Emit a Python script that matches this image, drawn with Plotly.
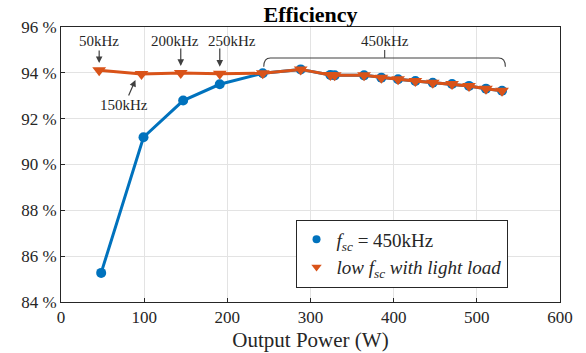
import plotly.graph_objects as go

# Output power (W) and efficiency (%) for the two operating modes
power_fixed = [48.3, 99.2, 146.9, 190.9, 242.6, 288.2, 323.9, 329.1, 364.4, 385.2,
               405.3, 426.1, 447.0, 470.2, 490.6, 511.0, 530.3]
eff_fixed = [85.27, 91.19, 92.79, 93.50, 93.98, 94.15, 93.91, 93.89, 93.89, 93.79,
             93.72, 93.64, 93.57, 93.51, 93.43, 93.31, 93.22]

power_var = [45.9, 96.8, 144.0, 190.9, 242.6, 288.2, 323.9, 329.1, 364.4, 385.2,
             405.3, 426.1, 447.0, 470.2, 490.6, 511.0, 530.3]
eff_var = [94.11, 93.95, 93.99, 93.96, 93.98, 94.15, 93.91, 93.89, 93.89, 93.79,
           93.72, 93.64, 93.57, 93.51, 93.43, 93.31, 93.22]

freq_labels = ["50kHz", "150kHz", "200kHz", "250kHz"]
x_ticks = [0, 100, 200, 300, 400, 500, 600]
y_ticks = [84, 86, 88, 90, 92, 94, 96]

BLUE = "#0072BD"
ORANGE = "#D95319"
INK = "#262626"
ARROW = "#404040"
FONT = "'Liberation Serif', 'Times New Roman', 'DejaVu Serif', serif"

fig = go.Figure()

fig.add_trace(go.Scatter(
    x=power_fixed, y=eff_fixed, mode="lines+markers",
    line=dict(color=BLUE, width=3),
    marker=dict(symbol="circle", size=10, color=BLUE),
    showlegend=False,
))
fig.add_trace(go.Scatter(
    x=power_var, y=eff_var, mode="lines+markers",
    line=dict(color=ORANGE, width=3),
    marker=dict(symbol="triangle-down", size=12, color=ORANGE),
    showlegend=False,
))

# legend entries (marker only)
fig.add_trace(go.Scatter(
    x=[None], y=[None], mode="markers",
    marker=dict(symbol="circle", size=8, color=BLUE),
    name="<i>f</i><sub><i>sc</i></sub> = 450kHz",
))
fig.add_trace(go.Scatter(
    x=[None], y=[None], mode="markers",
    marker=dict(symbol="triangle-down", size=9, color=ORANGE),
    name="<i>low f</i><sub><i>sc</i></sub><i> with light load</i>",
))


def tagged_arrow(txt, x_head, y_head, x_text, y_text):
    """Label placed at (x_text, y_text) with an arrow pointing to the head."""
    fig.add_annotation(
        x=x_head, y=y_head, ax=x_text, ay=y_text,
        xref="x", yref="y", axref="x", ayref="y",
        text=txt, showarrow=True, arrowhead=2, arrowsize=1.1,
        arrowwidth=1.2, arrowcolor=ARROW, standoff=0, borderpad=1,
        font=dict(family=FONT, size=15, color=INK),
    )


def plain_arrow(x_head, y_head, x_tail, y_tail):
    fig.add_annotation(
        x=x_head, y=y_head, ax=x_tail, ay=y_tail,
        xref="x", yref="y", axref="x", ayref="y",
        text="", showarrow=True, arrowhead=2, arrowsize=1.1,
        arrowwidth=1.2, arrowcolor=ARROW,
    )


def label(x, y, txt):
    fig.add_annotation(
        x=x, y=y, xref="x", yref="y", text=txt, showarrow=False,
        font=dict(family=FONT, size=15, color=INK),
    )


tagged_arrow(freq_labels[0], power_var[0], 94.43, power_var[0], 95.39)
tagged_arrow(freq_labels[1], 89.5, 93.69, 76.3, 92.60)

plain_arrow(power_var[2], 94.30, power_var[2], 95.13)
label(137.6, 95.39, freq_labels[2])
plain_arrow(power_var[3], 94.27, power_var[3], 95.13)
label(206.1, 95.39, freq_labels[3])

# bracket spanning the 450kHz points
x0, x1 = power_var[4] + 1.2, power_var[-1] + 4.0
yb, yl, yt = 94.647, 94.27, 95.0
xm = 389.2
r = 8.0
path = (f"M {x0},{yl} Q {x0},{yb} {x0 + r},{yb} L {x1 - r},{yb} "
        f"Q {x1},{yb} {x1},{yl} M {xm},{yb} L {xm},{yt}")
fig.add_shape(type="path", path=path, xref="x", yref="y",
              line=dict(color=ARROW, width=1.1))
label(xm, 95.40, "450kHz")

axis_common = dict(
    showgrid=True, gridcolor="#e3e3e3", gridwidth=1,
    showline=True, linecolor="#262626", linewidth=1, mirror=True,
    ticks="inside", ticklen=4, tickcolor="#262626",
    tickfont=dict(family=FONT, size=17, color=INK),
    zeroline=False, automargin=False,
)

fig.update_xaxes(
    range=[0, 600], tickvals=x_ticks,
    title=dict(text="Output Power (W)", font=dict(family=FONT, size=21, color=INK), standoff=5),
    **axis_common,
)
fig.update_yaxes(
    range=[84, 96], tickvals=y_ticks, ticktext=[f"{v} %" for v in y_ticks],
    **axis_common,
)

fig.update_layout(
    width=586, height=353,
    margin=dict(l=61, r=26, t=27, b=51),
    paper_bgcolor="white", plot_bgcolor="white",
    title=dict(text="<b>Efficiency</b>", x=0.53, xanchor="center", y=0.96, yanchor="middle",
               font=dict(family=FONT, size=22, color="black")),
    legend=dict(
        x=0.47, y=0.30, xanchor="left", yanchor="top",
        bgcolor="white", bordercolor="#262626", borderwidth=1,
        font=dict(family=FONT, size=19, color=INK),
        itemsizing="trace", tracegroupgap=0,
    ),
)

fig.write_html("out.html")
